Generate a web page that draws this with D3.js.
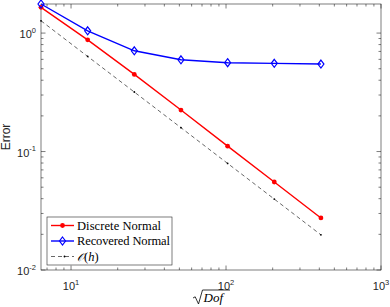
<!DOCTYPE html>
<html>
<head>
<meta charset="utf-8">
<script src="https://cdn.jsdelivr.net/npm/d3@7"></script>
<style>
  body { margin: 0; background: #fff; }
  svg { display: block; }
</style>
</head>
<body>
<div id="chart"></div>
<script>
const width = 390;
const height = 307;

// sqrt(Dof) for each refinement level
const dof = [6.4, 12.8, 25.6, 51.2, 102.4, 204.8, 409.6];
const discrete = [1.65, 0.877, 0.448, 0.224, 0.111, 0.0553, 0.0275];
const recovered = [1.76, 1.045, 0.709, 0.595, 0.562, 0.555, 0.548];
const orderH = [1.27, 0.635, 0.318, 0.159, 0.0794, 0.0397, 0.0198];
const xTicks = [1, 2, 3];
const yTicks = [-2, -1, 0];
const legendLabels = ["Discrete Normal", "Recovered Normal", "O(h)"];

const margin = { left: 41, right: 9, top: 4, bottom: 37 };
const axisColor = "#262626";

let x = d3.scaleLog()
  .domain([6.4, 1000])
  .range([margin.left, width - margin.right]);
let y = d3.scaleLog()
  .domain([0.01, 1.76])
  .range([height - margin.bottom, margin.top]);

let svg = d3.select("#chart")
  .append("svg")
  .attr("width", width)
  .attr("height", height)
  .attr("viewBox", [0, 0, width, height]);

const x0 = x.range()[0], x1 = x.range()[1];
const y0 = y.range()[0], y1 = y.range()[1];

// ticks, inward, on all four sides
let ticks = svg.append("g")
  .attr("stroke", axisColor)
  .attr("stroke-width", 0.6);

const isMajor = v => Math.abs(Math.log10(v) - Math.round(Math.log10(v))) < 1e-9;

x.ticks().forEach(v => {
  const len = isMajor(v) ? 4.5 : 2.5;
  const px = x(v);
  ticks.append("line").attr("x1", px).attr("x2", px).attr("y1", y0).attr("y2", y0 - len);
  ticks.append("line").attr("x1", px).attr("x2", px).attr("y1", y1).attr("y2", y1 + len);
});
y.ticks().forEach(v => {
  const len = isMajor(v) ? 4.5 : 2.5;
  const py = y(v);
  ticks.append("line").attr("y1", py).attr("y2", py).attr("x1", x0).attr("x2", x0 + len);
  ticks.append("line").attr("y1", py).attr("y2", py).attr("x1", x1).attr("x2", x1 - len);
});

svg.append("rect")
  .attr("x", x0).attr("y", y1)
  .attr("width", x1 - x0).attr("height", y0 - y1)
  .attr("fill", "none")
  .attr("stroke", axisColor)
  .attr("stroke-width", 0.6);

// tick labels
const sans = "'Liberation Sans', Arial, sans-serif";
let xl = svg.append("g")
  .attr("font-family", sans)
  .attr("fill", axisColor)
  .selectAll("text")
  .data(xTicks)
  .join("text")
    .attr("x", d => x(Math.pow(10, d)))
    .attr("y", y0 + 20)
    .attr("text-anchor", "middle")
    .attr("font-size", 11);
xl.append("tspan").text("10");
xl.append("tspan").attr("font-size", 7.5).attr("dy", -5.5).text(d => d);

let yl = svg.append("g")
  .attr("font-family", sans)
  .attr("fill", axisColor)
  .selectAll("text")
  .data(yTicks)
  .join("text")
    .attr("x", x0 - 5)
    .attr("y", d => y(Math.pow(10, d)) + 5)
    .attr("text-anchor", "end")
    .attr("font-size", 11);
yl.append("tspan").text("10");
yl.append("tspan").attr("font-size", 7.5).attr("dy", -5.5).text(d => d);

// axis labels
svg.append("text")
  .attr("transform", `translate(10,${(y0 + y1) / 2}) rotate(-90)`)
  .attr("text-anchor", "middle")
  .attr("font-family", sans)
  .attr("font-size", 12)
  .attr("fill", axisColor)
  .text("Error");

const cx = (x0 + x1) / 2;
let xlab = svg.append("g").attr("transform", `translate(${cx - 18},0)`);
xlab.append("path")
  .attr("d", "M0,298 L2.2,296.8 L5.5,304 L9.5,290 L37,290")
  .attr("fill", "none")
  .attr("stroke", "#000")
  .attr("stroke-width", 0.8);
xlab.append("text")
  .attr("x", 10.5)
  .attr("y", 302)
  .attr("font-family", "'Liberation Serif', 'DejaVu Serif', serif")
  .attr("font-style", "italic")
  .attr("font-size", 13)
  .attr("fill", "#000")
  .text("Dof");

// series
const pts = vals => dof.map((d, i) => [d, vals[i]]);
let line = d3.line()
  .x(d => x(d[0]))
  .y(d => y(d[1]));

let plot = svg.append("g");

plot.append("path")
  .datum(pts(orderH))
  .attr("d", line)
  .attr("fill", "none")
  .attr("stroke", "#000")
  .attr("stroke-width", 0.6)
  .attr("stroke-dasharray", "4,3");
plot.append("g")
  .selectAll("circle")
  .data(pts(orderH))
  .join("circle")
    .attr("cx", d => x(d[0]))
    .attr("cy", d => y(d[1]))
    .attr("r", 0.9)
    .attr("fill", "#000");

plot.append("path")
  .datum(pts(discrete))
  .attr("d", line)
  .attr("fill", "none")
  .attr("stroke", "#ff0000")
  .attr("stroke-width", 1.4);
plot.append("g")
  .selectAll("circle")
  .data(pts(discrete))
  .join("circle")
    .attr("cx", d => x(d[0]))
    .attr("cy", d => y(d[1]))
    .attr("r", 2.4)
    .attr("fill", "#ff0000");

const diamond = (px, py) => `M${px},${py - 4} L${px + 3},${py} L${px},${py + 4} L${px - 3},${py} Z`;

plot.append("path")
  .datum(pts(recovered))
  .attr("d", line)
  .attr("fill", "none")
  .attr("stroke", "#0000ff")
  .attr("stroke-width", 1.4);
plot.append("g")
  .selectAll("path")
  .data(pts(recovered))
  .join("path")
    .attr("d", d => diamond(x(d[0]), y(d[1])))
    .attr("fill", "none")
    .attr("stroke", "#0000ff")
    .attr("stroke-width", 1.2);

// legend
let legend = svg.append("g");
legend.append("rect")
  .attr("x", 47).attr("y", 217)
  .attr("width", 125).attr("height", 48)
  .attr("fill", "#fff")
  .attr("stroke", axisColor)
  .attr("stroke-width", 0.6);

const ly = [225.5, 241, 256.5];
const lx0 = 51, lx1 = 74;
legend.append("line").attr("x1", lx0).attr("x2", lx1).attr("y1", ly[0]).attr("y2", ly[0])
  .attr("stroke", "#ff0000").attr("stroke-width", 1.4);
legend.append("circle").attr("cx", (lx0 + lx1) / 2).attr("cy", ly[0]).attr("r", 2.4).attr("fill", "#ff0000");
legend.append("line").attr("x1", lx0).attr("x2", lx1).attr("y1", ly[1]).attr("y2", ly[1])
  .attr("stroke", "#0000ff").attr("stroke-width", 1.4);
legend.append("path").attr("d", diamond((lx0 + lx1) / 2, ly[1]))
  .attr("fill", "none").attr("stroke", "#0000ff").attr("stroke-width", 1.2);
legend.append("line").attr("x1", lx0).attr("x2", lx1).attr("y1", ly[2]).attr("y2", ly[2])
  .attr("stroke", "#000").attr("stroke-width", 0.6).attr("stroke-dasharray", "4,3");
legend.append("circle").attr("cx", (lx0 + lx1) / 2 + 2).attr("cy", ly[2]).attr("r", 0.9).attr("fill", "#000");

const serif = "'Liberation Serif', 'DejaVu Serif', serif";
legend.append("text").attr("x", 77).attr("y", ly[0] + 4)
  .attr("font-family", serif).attr("font-size", 12.5).attr("textLength", 84).text(legendLabels[0]);
legend.append("text").attr("x", 77).attr("y", ly[1] + 4)
  .attr("font-family", serif).attr("font-size", 12.5).attr("textLength", 93).text(legendLabels[1]);
let oh = legend.append("text").attr("x", 77).attr("y", ly[2] + 4)
  .attr("font-family", serif).attr("font-size", 12.5);
oh.append("tspan").attr("font-family", "'DejaVu Serif', serif").attr("font-style", "italic").attr("font-size", 11.5).text("𝒪");
oh.append("tspan").text("(");
oh.append("tspan").attr("font-style", "italic").text("h");
oh.append("tspan").text(")");
</script>
</body>
</html>
